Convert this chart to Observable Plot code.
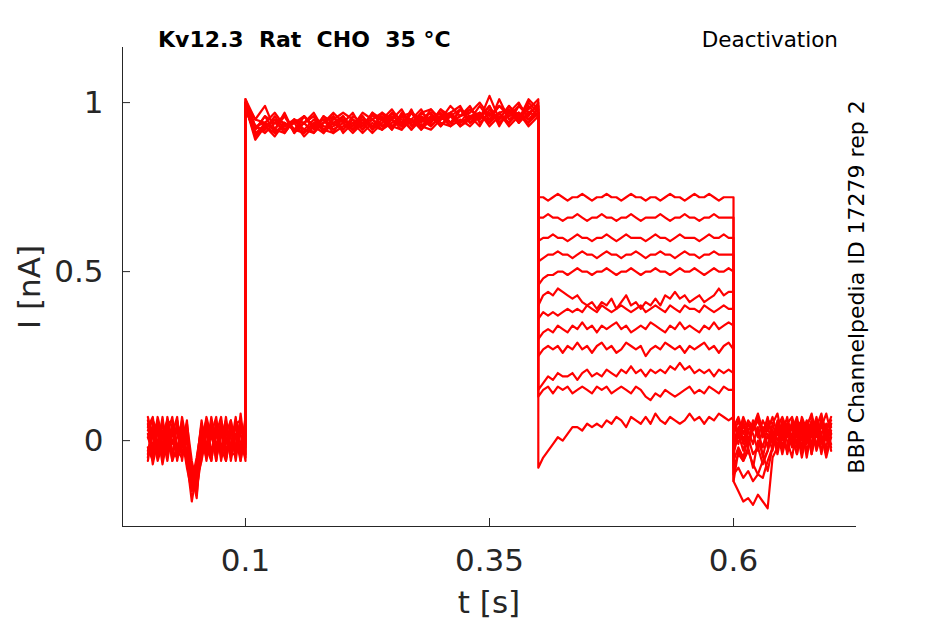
<!DOCTYPE html>
<html><head><meta charset="utf-8">
<script src="https://cdn.jsdelivr.net/npm/d3@7"></script>
<script src="https://cdn.jsdelivr.net/npm/@observablehq/plot@0.6"></script>
<style>body{margin:0;background:#fff} svg text{white-space:pre}</style>
</head><body><div id="chart"></div>
<script>
// Time sampling of the four protocol segments (s)
const segStart = [0, 0.1, 0.4, 0.6];
const segStep = [0.005, 0.01, 0.005, 0.005];
const xDomain = [-0.026, 0.726];
const yDomain = [-0.254, 1.163];
const xTicks = [0.1, 0.35, 0.6];
const yTicks = [0, 0.5, 1];

// Segment A: holding, 0 – 0.1 s (nA)
const baselineA = [
 [0.02,-0.05,0.06,-0.03,0.04,-0.06,0.05,0.01,-0.08,-0.15,-0.12,0.03,-0.04,0.07,-0.02,0.05,-0.05,0.06,-0.03,0.04,-0.02],
 [-0.04,0.05,-0.02,0.07,-0.05,0.03,-0.04,0.06,-0.06,-0.18,-0.09,-0.03,0.05,-0.04,0.06,-0.05,0.03,-0.02,0.07,-0.06,0.05],
 [0.06,-0.02,0.04,-0.06,0.02,0.07,-0.03,-0.05,0.04,-0.1,-0.17,0.01,0.06,-0.05,0.02,0.07,-0.04,0.05,-0.05,0.08,-0.04],
 [-0.06,0.03,-0.05,0.02,0.06,-0.04,0.01,0.05,-0.07,-0.12,-0.05,0.04,-0.06,0.03,-0.05,0.01,0.06,-0.06,0.02,-0.03,0.06],
 [0.04,0.07,-0.04,0.03,-0.02,0.05,-0.06,0.02,0.03,-0.08,-0.11,-0.06,0.02,0.05,-0.06,0.03,-0.01,0.04,-0.06,0.05,0.01],
 [-0.02,-0.06,0.05,-0.04,0.07,-0.01,0.04,-0.04,-0.02,-0.14,-0.06,0.05,-0.02,-0.06,0.04,-0.03,0.07,-0.04,0.05,-0.01,-0.05],
 [0.07,0.01,-0.03,0.06,-0.04,0.02,0.07,-0.06,0.05,-0.06,-0.13,-0.02,0.07,0.01,-0.03,0.06,-0.06,0.02,0.04,-0.05,0.03],
 [-0.05,0.04,0.02,-0.05,0.05,-0.06,-0.02,0.04,-0.04,-0.09,-0.16,0.0,-0.05,0.06,-0.04,0.02,0.04,-0.05,0.06,0.02,-0.06],
 [0.01,-0.03,0.07,0.01,-0.06,0.04,0.03,-0.02,0.06,-0.11,-0.07,0.06,-0.03,0.02,0.07,-0.06,0.02,0.06,-0.02,-0.04,0.07],
 [0.05,-0.07,0.0,0.04,0.03,-0.03,-0.05,0.07,-0.01,-0.07,-0.12,-0.04,0.04,-0.03,0.01,0.04,-0.03,-0.01,0.05,0.06,-0.01],
 [-0.03,0.02,-0.06,-0.01,0.05,0.06,-0.05,0.0,0.02,-0.13,-0.08,0.02,-0.01,0.05,-0.06,0.05,0.01,-0.04,-0.04,0.03,0.04],
 [0.03,0.06,0.03,-0.07,0.01,-0.05,0.06,-0.03,-0.05,-0.1,-0.14,-0.05,0.03,-0.06,0.05,-0.02,-0.06,0.03,0.01,-0.06,0.02]
];

// Segment B: activating pulse, 0.1 – 0.4 s (nA)
const pulseB = [
 [1.00,0.92,0.96,0.91,0.94,0.92,0.96,0.93,0.91,0.96,0.92,0.95,0.93,0.97,0.93,0.95,0.98,0.93,0.96,0.94,0.98,0.94,0.96,0.99,0.94,0.97,0.95,0.99,0.95,1.00,0.97],
 [0.99,0.90,0.93,0.95,0.91,0.95,0.91,0.94,0.92,0.91,0.96,0.92,0.96,0.92,0.95,0.92,0.96,0.97,0.93,0.96,0.93,0.97,0.94,0.96,0.93,0.98,0.94,0.97,1.00,0.95,0.98],
 [1.01,0.95,0.99,0.92,0.96,0.91,0.94,0.96,0.91,0.94,0.96,0.92,0.95,0.93,0.92,0.97,0.93,0.95,0.98,0.93,0.96,0.97,0.99,0.94,0.97,0.94,1.01,0.95,0.97,0.94,0.99],
 [0.98,0.91,0.92,0.96,0.92,0.95,0.92,0.91,0.96,0.92,0.94,0.97,0.92,0.95,0.97,0.93,0.92,0.97,0.94,0.98,0.94,0.93,0.98,0.95,0.99,0.95,0.97,0.94,0.99,0.96,1.00],
 [1.00,0.93,0.94,0.92,0.97,0.91,0.96,0.93,0.94,0.96,0.91,0.94,0.96,0.92,0.97,0.95,0.93,0.98,0.92,0.95,0.97,0.94,0.96,0.98,0.95,0.99,0.93,0.98,0.94,0.99,0.96],
 [0.99,0.89,0.93,0.91,0.93,0.94,0.90,0.93,0.95,0.92,0.94,0.91,0.94,0.95,0.92,0.94,0.96,0.92,0.95,0.93,0.96,0.93,0.95,0.93,0.96,0.94,0.97,0.93,0.96,0.94,0.97],
 [1.00,0.95,0.94,0.97,0.93,0.95,0.94,0.97,0.92,0.95,0.97,0.95,0.92,0.97,0.95,0.98,0.94,0.94,0.97,0.98,0.95,0.99,0.96,0.97,1.00,0.96,0.99,0.97,0.95,1.01,0.98],
 [0.98,0.91,0.93,0.90,0.94,0.92,0.91,0.94,0.95,0.91,0.93,0.94,0.91,0.94,0.92,0.95,0.92,0.95,0.93,0.92,0.95,0.96,0.93,0.95,0.97,0.93,0.96,0.94,0.97,0.93,0.96],
 [1.01,0.93,0.91,0.94,0.96,0.92,0.94,0.91,0.94,0.97,0.94,0.92,0.95,0.93,0.96,0.92,0.97,0.94,0.95,0.97,0.93,0.96,0.98,0.94,0.96,0.99,0.94,0.96,0.99,0.97,0.99],
 [0.99,0.90,0.94,0.92,0.91,0.95,0.92,0.95,0.92,0.94,0.92,0.96,0.94,0.91,0.94,0.97,0.95,0.92,0.97,0.95,0.96,0.94,0.98,0.96,0.95,1.02,0.95,0.99,0.96,0.98,1.01],
 [1.00,0.92,0.96,0.94,0.92,0.94,0.96,0.92,0.96,0.94,0.95,0.93,0.97,0.95,0.93,0.96,0.94,0.97,0.95,0.94,0.98,0.96,0.94,0.98,0.96,0.95,0.99,0.96,0.97,0.95,0.97],
 [0.99,0.93,0.92,0.95,0.94,0.92,0.94,0.96,0.93,0.93,0.95,0.92,0.94,0.96,0.95,0.93,0.96,0.95,0.92,0.96,0.95,0.97,0.93,0.96,0.97,0.94,0.97,0.98,0.94,0.97,0.96]
];

// Segment C: deactivating steps, 0.4 – 0.6 s (nA)
const stepC = [
 [0.72,0.72,0.71,0.72,0.73,0.72,0.71,0.72,0.72,0.73,0.72,0.71,0.72,0.72,0.73,0.72,0.72,0.71,0.72,0.73,0.72,0.72,0.71,0.72,0.72,0.71,0.72,0.73,0.72,0.72,0.71,0.72,0.73,0.72,0.72,0.73,0.72,0.71,0.72,0.72,0.72],
 [0.66,0.66,0.67,0.66,0.66,0.65,0.66,0.66,0.67,0.66,0.65,0.66,0.66,0.67,0.66,0.66,0.65,0.66,0.66,0.67,0.66,0.65,0.66,0.66,0.66,0.67,0.66,0.65,0.66,0.66,0.67,0.66,0.66,0.65,0.66,0.66,0.67,0.66,0.66,0.66,0.66],
 [0.59,0.60,0.60,0.61,0.60,0.60,0.59,0.60,0.61,0.60,0.60,0.59,0.60,0.60,0.61,0.60,0.59,0.60,0.61,0.60,0.60,0.60,0.59,0.60,0.61,0.60,0.60,0.59,0.60,0.61,0.60,0.60,0.60,0.59,0.60,0.61,0.60,0.60,0.61,0.60,0.60],
 [0.53,0.54,0.55,0.55,0.56,0.55,0.55,0.54,0.55,0.56,0.55,0.55,0.54,0.55,0.56,0.55,0.55,0.54,0.55,0.55,0.56,0.55,0.54,0.55,0.55,0.56,0.55,0.55,0.54,0.55,0.56,0.55,0.55,0.54,0.55,0.55,0.56,0.55,0.55,0.55,0.55],
 [0.46,0.48,0.49,0.49,0.50,0.50,0.49,0.50,0.51,0.50,0.50,0.49,0.50,0.50,0.51,0.50,0.49,0.50,0.50,0.51,0.50,0.49,0.50,0.50,0.51,0.50,0.50,0.49,0.50,0.51,0.50,0.50,0.51,0.50,0.49,0.50,0.51,0.50,0.50,0.51,0.50],
 [0.40,0.43,0.44,0.43,0.45,0.44,0.43,0.42,0.43,0.41,0.40,0.41,0.39,0.41,0.40,0.42,0.39,0.41,0.43,0.40,0.41,0.39,0.41,0.40,0.42,0.40,0.43,0.42,0.44,0.42,0.43,0.41,0.42,0.43,0.41,0.42,0.43,0.45,0.43,0.44,0.44],
 [0.36,0.38,0.37,0.38,0.37,0.38,0.39,0.38,0.39,0.38,0.40,0.39,0.38,0.40,0.39,0.38,0.39,0.40,0.39,0.38,0.39,0.40,0.38,0.39,0.40,0.39,0.38,0.40,0.39,0.38,0.40,0.39,0.39,0.38,0.40,0.39,0.38,0.39,0.40,0.39,0.39],
 [0.30,0.32,0.33,0.32,0.34,0.33,0.32,0.34,0.33,0.35,0.33,0.34,0.32,0.34,0.33,0.34,0.35,0.33,0.34,0.32,0.33,0.34,0.33,0.35,0.34,0.33,0.32,0.34,0.33,0.35,0.33,0.34,0.33,0.32,0.34,0.33,0.35,0.33,0.34,0.35,0.34],
 [0.25,0.27,0.28,0.27,0.28,0.26,0.28,0.27,0.29,0.27,0.28,0.26,0.28,0.29,0.27,0.28,0.26,0.27,0.29,0.28,0.27,0.28,0.25,0.27,0.28,0.27,0.29,0.28,0.27,0.28,0.26,0.28,0.27,0.28,0.29,0.27,0.28,0.26,0.28,0.29,0.27],
 [0.15,0.17,0.19,0.18,0.20,0.19,0.19,0.20,0.18,0.20,0.21,0.19,0.20,0.19,0.21,0.20,0.19,0.21,0.20,0.22,0.20,0.21,0.19,0.21,0.20,0.21,0.20,0.22,0.21,0.23,0.21,0.22,0.20,0.21,0.20,0.21,0.19,0.21,0.20,0.21,0.20],
 [0.13,0.15,0.16,0.14,0.16,0.15,0.16,0.14,0.15,0.16,0.15,0.14,0.16,0.15,0.16,0.14,0.15,0.16,0.15,0.14,0.16,0.15,0.13,0.12,0.14,0.13,0.15,0.14,0.13,0.14,0.15,0.16,0.14,0.15,0.14,0.16,0.15,0.14,0.16,0.15,0.15],
 [-0.08,-0.05,-0.03,-0.01,0.01,0.00,0.02,0.04,0.04,0.03,0.05,0.04,0.05,0.04,0.06,0.05,0.07,0.06,0.04,0.07,0.06,0.05,0.07,0.05,0.08,0.06,0.05,0.07,0.06,0.05,0.06,0.08,0.06,0.07,0.05,0.07,0.06,0.08,0.07,0.06,0.07]
];

// Segment D: return to holding, 0.6 – 0.7 s (nA)
const tailD = [
 [-0.12,-0.15,-0.18,-0.17,-0.19,-0.16,-0.18,-0.2,-0.05,-0.02,0.01,-0.03,0.02,-0.04,0.03,-0.01,0.04,-0.03,0.02,-0.05,0.01],
 [-0.1,-0.08,-0.11,-0.09,-0.12,-0.1,-0.06,-0.03,0.02,-0.04,0.03,0.00,-0.05,0.04,-0.02,0.05,-0.04,0.03,-0.03,0.04,-0.02],
 [-0.08,-0.04,-0.06,-0.03,-0.07,-0.1,-0.11,-0.06,-0.02,0.04,-0.03,0.05,-0.01,0.03,-0.05,0.02,0.06,-0.02,0.05,0.0,0.03],
 [-0.06,-0.02,-0.05,0.01,-0.04,-0.02,-0.07,-0.03,0.03,-0.02,0.05,-0.04,0.02,0.06,-0.03,0.04,-0.01,0.05,-0.04,0.03,0.06],
 [-0.04,0.02,-0.03,0.03,-0.01,0.04,-0.05,0.02,-0.03,0.05,-0.02,0.04,0.01,-0.04,0.05,-0.03,0.02,0.07,-0.01,0.04,-0.03],
 [-0.12,-0.03,-0.06,-0.02,-0.08,0.0,-0.04,-0.09,-0.02,0.03,-0.04,0.02,0.05,-0.02,0.04,-0.05,0.03,-0.02,0.06,-0.04,0.02],
 [-0.02,0.04,-0.01,0.05,0.02,-0.03,0.04,-0.02,0.05,0.00,0.03,-0.03,0.06,0.01,-0.02,0.05,-0.04,0.04,0.01,-0.02,0.05],
 [0.03,-0.01,0.05,0.0,0.06,0.02,-0.02,0.04,-0.01,0.06,0.02,0.07,-0.01,0.04,0.06,0.0,0.05,-0.02,0.07,0.03,-0.01],
 [0.05,0.01,0.06,-0.02,0.04,0.07,0.01,0.05,0.03,-0.02,0.06,0.01,0.04,-0.01,0.07,0.03,-0.03,0.06,0.02,0.05,0.04],
 [0.02,0.06,0.0,0.05,0.03,0.06,0.02,0.07,0.0,0.04,0.07,0.03,-0.02,0.05,0.02,0.06,0.01,0.04,0.08,0.01,0.05],
 [0.06,0.02,0.07,0.03,0.05,0.01,0.06,0.03,0.07,0.02,0.05,0.06,0.03,0.07,0.0,0.05,0.07,0.03,0.04,0.08,0.02],
 [0.04,0.07,0.02,0.06,0.04,0.08,0.03,0.06,0.05,0.08,0.01,0.05,0.07,0.02,0.06,0.04,0.08,0.01,0.06,0.03,0.07]
];

const rows = [];
baselineA.forEach((_, k) => {
  [baselineA[k], pulseB[k], stepC[k], tailD[k]].forEach((vals, s) => {
    vals.forEach((v, i) => rows.push({t: segStart[s] + i * segStep[s], I: v, trace: k}));
  });
});

const fmt = d => String(d);
const chart = Plot.plot({
  width: 945, height: 624,
  marginLeft: 122, marginRight: 89, marginTop: 47, marginBottom: 98,
  style: {fontFamily: "DejaVu Sans", fontSize: "31px", color: "#262626", background: "#fff", overflow: "visible"},
  x: {domain: xDomain},
  y: {domain: yDomain},
  marks: [
    Plot.line(rows, {x: "t", y: "I", z: "trace", stroke: "#ff0000", strokeWidth: 2.2, strokeLinejoin: "round"}),
    Plot.ruleX([xDomain[0]], {stroke: "#262626"}),
    Plot.ruleY([yDomain[0]], {stroke: "#262626"}),
    Plot.axisX({ticks: xTicks, tickSize: -8, tickPadding: 30, tickFormat: fmt, label: null, fontSize: 31}),
    Plot.axisY({ticks: yTicks, tickSize: -8, tickPadding: 27, tickFormat: fmt, label: null, fontSize: 31})
  ]
});
document.getElementById("chart").appendChild(chart);

const svg = d3.select(chart);
const fam = "DejaVu Sans";
svg.append("text").attr("x", 158).attr("y", 46.5).attr("font-family", fam).attr("font-size", 22)
  .attr("font-weight", "bold").attr("text-anchor", "start").attr("fill", "#000").style("white-space", "pre").text("Kv12.3  Rat  CHO  35 °C");
svg.append("text").attr("x", 838).attr("y", 46.5).attr("font-family", fam).attr("font-size", 21.5)
  .attr("text-anchor", "end").attr("fill", "#000").text("Deactivation");
svg.append("text").attr("transform", "translate(864,287) rotate(-90)").attr("font-family", fam).attr("font-size", 22)
  .attr("text-anchor", "middle").attr("fill", "#000").text("BBP Channelpedia ID 17279 rep 2");
svg.append("text").attr("transform", "translate(40,287) rotate(-90)").attr("font-family", fam).attr("font-size", 31)
  .attr("text-anchor", "middle").attr("fill", "#262626").text("I [nA]");
svg.append("text").attr("x", 489).attr("y", 613).attr("font-family", fam).attr("font-size", 31)
  .attr("text-anchor", "middle").attr("fill", "#262626").text("t [s]");
</script>
</body></html>
